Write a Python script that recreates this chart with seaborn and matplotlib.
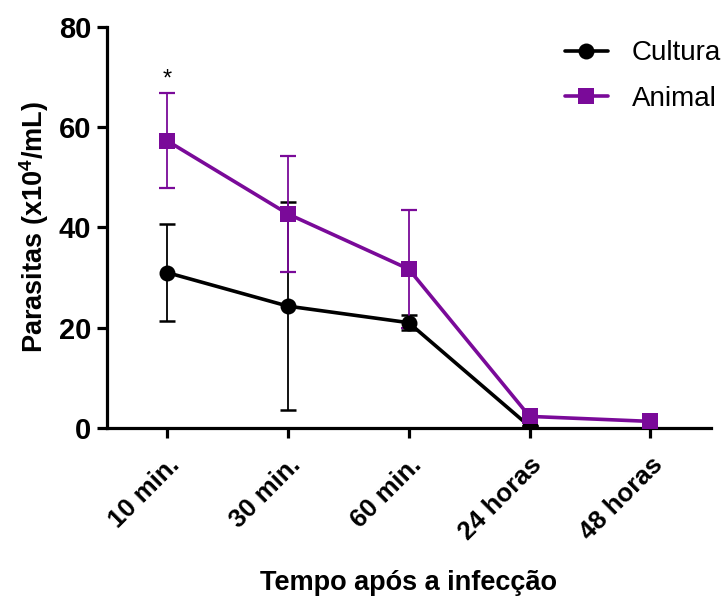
import matplotlib
matplotlib.use("Agg")
import matplotlib.pyplot as plt
import matplotlib.transforms as mtransforms
import seaborn as sns
import numpy as np
import pandas as pd

categories = ["10 min.", "30 min.", "60 min.", "24 horas", "48 horas"]
cultura_mean = [31.0, 24.3, 21.0, 0.3, np.nan]
cultura_err = [9.7, 20.7, 1.5, 0.0, np.nan]
animal_mean = [57.3, 42.7, 31.7, 2.3, 1.3]
animal_err = [9.5, 11.6, 11.7, 0.0, 0.0]

sns.set_style("ticks")
plt.rcParams["font.family"] = ["Liberation Sans", "DejaVu Sans"]
plt.rcParams["mathtext.fontset"] = "custom"
plt.rcParams["mathtext.rm"] = "Liberation Sans"
plt.rcParams["mathtext.bf"] = "Liberation Sans:bold"
for k in ["text.color", "axes.labelcolor", "xtick.color", "ytick.color", "axes.edgecolor"]:
    plt.rcParams[k] = "black"

black = "#000000"
purple = "#7a0a99"

df = pd.DataFrame({
    "x": list(range(len(categories))) * 2,
    "y": cultura_mean + animal_mean,
    "serie": ["Cultura"] * len(categories) + ["Animal"] * len(categories),
})

fig = plt.figure(figsize=(7.26, 6.01), dpi=100)
ax = fig.add_axes([0.147, 0.288, 0.832, 0.667])

xs = np.arange(len(categories))
ax.errorbar(xs, cultura_mean, yerr=cultura_err, fmt="none", ecolor=black,
            elinewidth=1.3, capsize=6, capthick=1.8, zorder=2)
ax.errorbar(xs, animal_mean, yerr=animal_err, fmt="none", ecolor=purple,
            elinewidth=1.3, capsize=6, capthick=1.6, zorder=2)

sns.lineplot(data=df, x="x", y="y", hue="serie", style="serie",
             palette={"Cultura": black, "Animal": purple},
             markers={"Cultura": "o", "Animal": "s"}, dashes=False,
             markersize=11.5, linewidth=2.6, markeredgewidth=0,
             ax=ax, zorder=3)

ax.set_xlim(-0.5, 4.5)
ax.set_ylim(0, 80)
ax.set_yticks([0, 20, 40, 60, 80])
ax.set_xticks(xs)
ax.set_xticklabels(categories, rotation=45, ha="right", rotation_mode="anchor",
                   fontsize=18.5, fontweight="bold")
shift = mtransforms.ScaledTranslation(-0.08, -0.03, fig.dpi_scale_trans)
for lab in ax.get_xticklabels():
    lab.set_transform(lab.get_transform() + shift)
for lab in ax.get_yticklabels():
    lab.set_fontsize(21)
    lab.set_fontweight("bold")

sns.despine(ax=ax)
for s in ["left", "bottom"]:
    ax.spines[s].set_linewidth(2.3)
ax.tick_params(axis="both", width=2.3, length=7, direction="out", pad=4)
ax.tick_params(axis="x", pad=11)

ax.set_xlabel("Tempo após a infecção", fontsize=19.5, fontweight="bold", labelpad=18)
ax.set_ylabel(r"Parasitas (x10$^\mathbf{4}$/mL)", fontsize=19.5, fontweight="bold", labelpad=6)

ax.text(0, 69.5, "*", ha="center", va="center", fontsize=17)

leg = ax.legend(loc="upper left", bbox_to_anchor=(0.778, 0.933), bbox_transform=fig.transFigure,
                frameon=False, fontsize=20, handlelength=1.55, handletextpad=0.86,
                labelspacing=0.7, borderpad=0, borderaxespad=0)
leg.set_title(None)

fig.savefig("out.png", dpi=100)
